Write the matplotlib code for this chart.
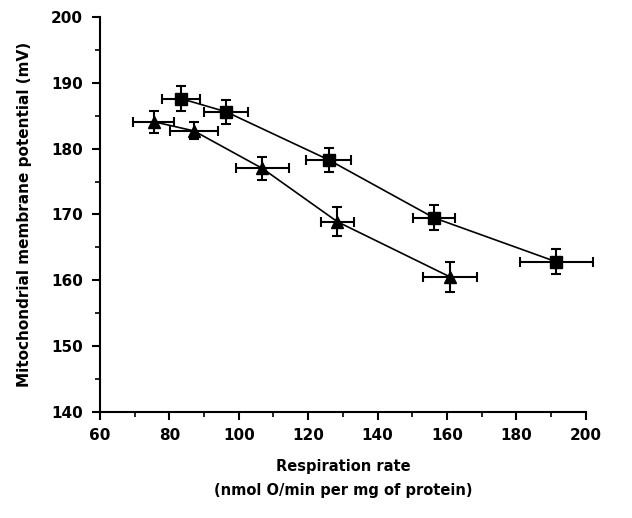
import matplotlib
matplotlib.use("Agg")
import matplotlib.pyplot as plt
from matplotlib.ticker import MultipleLocator

# squares
sq_x = [83.4, 96.4, 125.9, 156.2, 191.5]
sq_y = [187.6, 185.6, 178.3, 169.5, 162.8]
sq_xerr = [5.5, 6.3, 6.5, 6.0, 10.5]
sq_yerr = [1.9, 1.8, 1.85, 1.9, 1.9]

# triangles
tr_x = [75.5, 87.1, 106.8, 128.4, 160.9]
tr_y = [184.1, 182.7, 177.0, 168.9, 160.5]
tr_xerr = [6.0, 6.8, 7.6, 4.7, 7.8]
tr_yerr = [1.65, 1.3, 1.7, 2.25, 2.25]

plt.rcParams["font.family"] = "DejaVu Sans"
plt.rcParams["font.weight"] = "bold"

fig = plt.figure(figsize=(6.32, 5.18), dpi=100)
ax = fig.add_axes([0.158, 0.205, 0.769, 0.762])

common = dict(color="black", ecolor="black", elinewidth=1.5, capsize=3.5,
              capthick=1.5, linewidth=1.2, clip_on=False)
ax.errorbar(sq_x, sq_y, xerr=sq_xerr, yerr=sq_yerr, marker="s",
            markersize=8.5, **common)
ax.errorbar(tr_x, tr_y, xerr=tr_xerr, yerr=tr_yerr, marker="^",
            markersize=8.5, **common)

ax.set_xlim(60, 200)
ax.set_ylim(140, 200)
ax.xaxis.set_major_locator(MultipleLocator(20))
ax.xaxis.set_minor_locator(MultipleLocator(10))
ax.yaxis.set_major_locator(MultipleLocator(10))
ax.yaxis.set_minor_locator(MultipleLocator(5))

for s in ["top", "right"]:
    ax.spines[s].set_visible(False)
for s in ["left", "bottom"]:
    ax.spines[s].set_linewidth(1.5)

ax.tick_params(which="major", direction="out", length=6, width=1.5,
               labelsize=11, pad=6)
ax.tick_params(which="minor", direction="out", length=3.5, width=1.2)
for lab in ax.get_xticklabels() + ax.get_yticklabels():
    lab.set_fontweight("bold")

ax.set_xlabel("Respiration rate\n(nmol O/min per mg of protein)",
              fontsize=10.5, fontweight="bold", labelpad=11, linespacing=1.75)
ax.set_ylabel("Mitochondrial membrane potential (mV)", fontsize=11,
              fontweight="bold", labelpad=14)

fig.savefig("out.png", dpi=100)
